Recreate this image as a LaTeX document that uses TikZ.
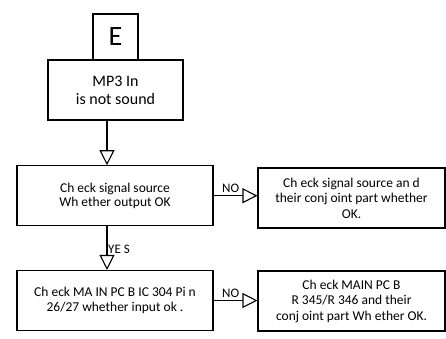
\documentclass[tikz,border=0pt]{standalone}
\usepackage{fontspec}
\setmainfont{Carlito}
\usetikzlibrary{arrows.meta}
\begin{document}
\begin{tikzpicture}[x=1pt,y=-1pt,
  box/.style={draw,line width=1.1pt,align=center,inner sep=0pt,font=\fontsize{13.5}{15.5}\selectfont},
  conn/.style={line width=1.1pt,-{Triangle[open,length=15pt,width=15pt,line width=1.1pt]}},
  lbl/.style={font=\fontsize{13}{14}\selectfont,inner sep=0pt}]
\useasboundingbox (0,0) rectangle (446,338);
\node[box,minimum width=45pt,minimum height=46pt,font=\fontsize{28}{30}\selectfont] (e) at (115.5,37) {E};
\node[box,minimum width=135pt,minimum height=60pt,font=\fontsize{16}{18}\selectfont] (mp3) at (115.5,90) {MP3 In\\is not sound};
\node[box,minimum width=196pt,minimum height=60pt,font=\fontsize{13.5}{14.5}\selectfont] (s1) at (115,195.7) {Ch eck signal source\\Wh ether output OK};
\node[box,minimum width=196pt,minimum height=60pt] (s2) at (115,300.5) {Ch eck MA IN PC B IC 304 Pi n\\26/27 whether input ok .};
\node[box,minimum width=187pt,minimum height=60pt] (r1) at (351.5,198) {Ch eck signal source an d\\their conj oint part whether\\OK.};
\node[box,minimum width=187pt,minimum height=60pt] (r2) at (351.5,301) {Ch eck MAIN PC B\\R 345/R 346 and their\\conj oint part Wh ether OK.};
\coordinate (c1) at (107,0);
\draw[conn] (mp3.south -| c1) -- (s1.north -| c1);
\draw[conn] (s1.south -| c1) -- (s2.north -| c1);
\node[lbl,anchor=base west] (yes) at (108,253) {YE S};
\draw[conn] (s1.east) -- (s1.east -| r1.west);
\node[lbl,anchor=base west] (no1) at (222,192.5) {NO};
\draw[conn] (s2.east) -- (s2.east -| r2.west);
\node[lbl,anchor=base west] (no2) at (222,297.5) {NO};
\end{tikzpicture}
\end{document}
